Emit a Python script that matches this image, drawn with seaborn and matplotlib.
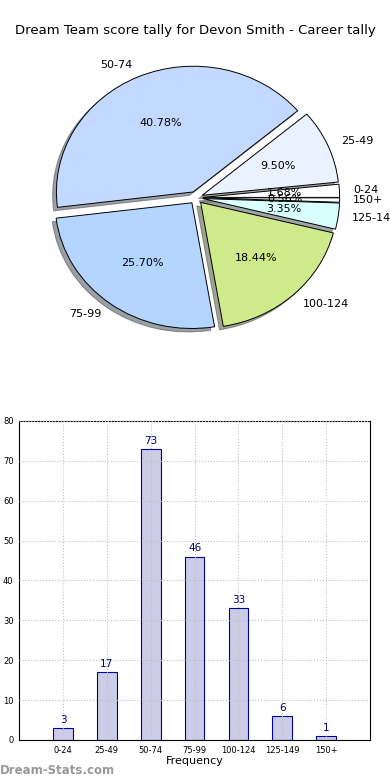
import matplotlib
matplotlib.use("Agg")
import matplotlib.pyplot as plt
import seaborn as sns
import pandas as pd

categories = ["0-24", "25-49", "50-74", "75-99", "100-124", "125-149", "150+"]
counts = [3, 17, 73, 46, 33, 6, 1]
pie_colors = ["#FFFFFF", "#EAF1FF", "#C4D9FF", "#B3D5FF", "#CFEA8A", "#D9FFFF", "#FFFFFF"]
title = "Dream Team score tally for Devon Smith - Career tally"

sns.set_style("white")
plt.rcParams['font.family'] = ['DejaVu Sans']
plt.rcParams.update({"text.color": "black", "xtick.color": "black",
                     "ytick.color": "black", "axes.labelcolor": "black"})

fig = plt.figure(figsize=(3.9, 7.8), dpi=100)

# pie on top
ax1 = fig.add_axes([0.064, 0.545, 0.877, 0.403])
ax1.pie(counts, labels=categories, colors=pie_colors, autopct="%1.2f%%",
        explode=[0.05] * len(counts), shadow=True, startangle=0,
        wedgeprops={"edgecolor": "black", "linewidth": 0.7},
        textprops={"fontsize": 8})
ax1.set_aspect("auto")
fig.text(0.5, 0.961, title, ha="center", va="center", fontsize=9.5)

# frequency bars
df = pd.DataFrame({"cat": categories, "n": counts})
ax2 = fig.add_axes([0.049, 0.0513, 0.9, 0.4090])
sns.barplot(data=df, x="cat", y="n", ax=ax2, color="#CCCCE6", saturation=1,
            width=0.45, edgecolor="#000099", linewidth=0.8)
for i, v in enumerate(counts):
    ax2.text(i, v + 0.8, str(v), ha="center", va="bottom", fontsize=7.5, color="#000080")
ax2.set_xlim(-1, 7)
ax2.set_ylim(0, 80)
ax2.set_yticks(range(0, 81, 10))
ax2.grid(True, linestyle=":", color="#C0C0C0", linewidth=0.8)
ax2.set_axisbelow(False)
for s in ax2.spines.values():
    s.set_color("black")
    s.set_linewidth(0.8)
ax2.tick_params(labelsize=6, length=2, pad=2)
ax2.set_xlabel("Frequency", fontsize=8, labelpad=1)
ax2.set_ylabel("")

fig.text(0.0, 0.012, "Dream-Stats.com", fontsize=8.5, color="#999999", weight="bold",
         ha="left", va="center")

fig.savefig("out.png", dpi=100)
